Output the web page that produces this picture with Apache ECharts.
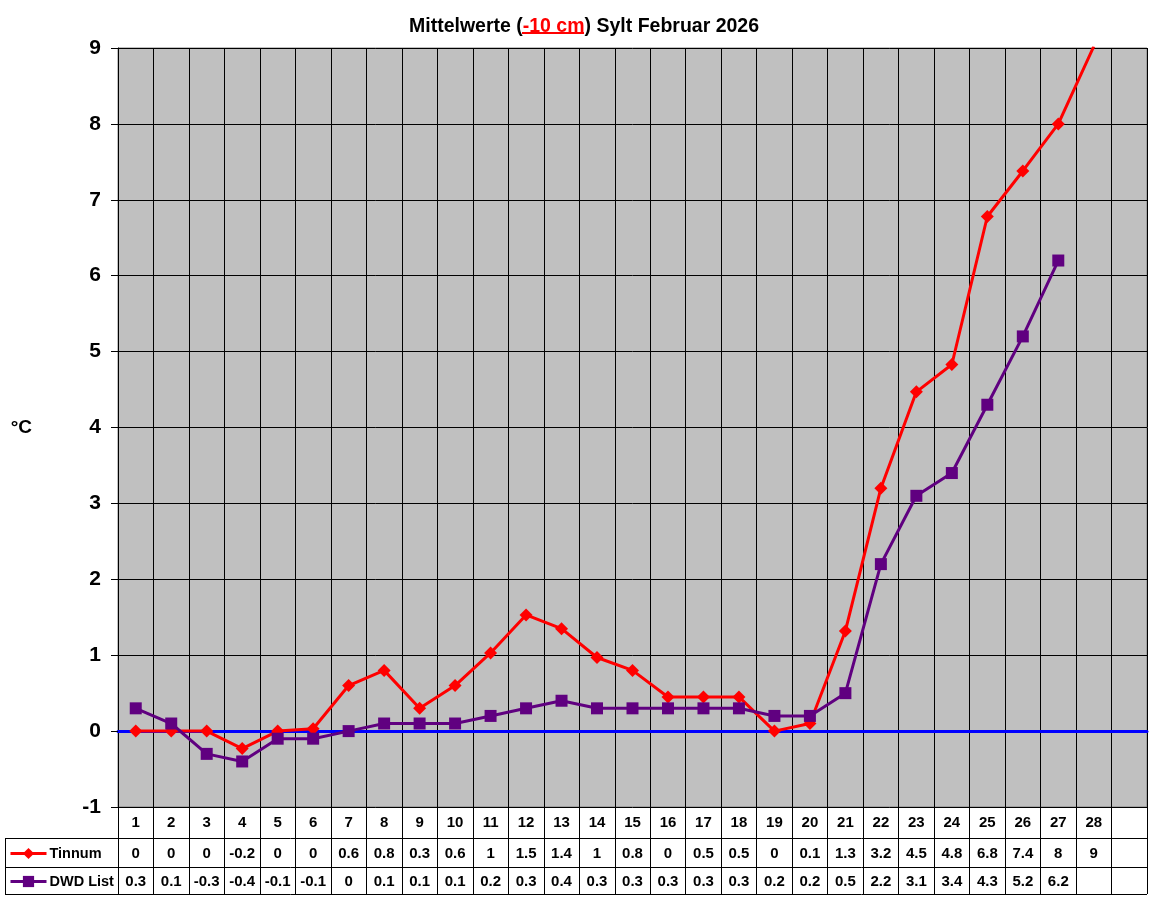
<!DOCTYPE html>
<html>
<head>
<meta charset="utf-8">
<script src="https://cdn.jsdelivr.net/npm/echarts@6/dist/echarts.min.js"></script>
<style>html,body{margin:0;padding:0;background:#fff;}#c{width:1152px;height:900px;}</style>
</head>
<body>
<div id="c"></div>
<script>
var days = ['1','2','3','4','5','6','7','8','9','10','11','12','13','14','15','16','17','18','19','20','21','22','23','24','25','26','27','28',''];
var tinnum = [0, 0, 0, -0.23, 0, 0.03, 0.6, 0.8, 0.3, 0.6, 1.03, 1.53, 1.35, 0.97, 0.8, 0.45, 0.45, 0.45, 0, 0.1, 1.32, 3.2, 4.47, 4.83, 6.78, 7.38, 8, 9.02];
var dwd = [0.3, 0.1, -0.3, -0.4, -0.1, -0.1, 0, 0.1, 0.1, 0.1, 0.2, 0.3, 0.4, 0.3, 0.3, 0.3, 0.3, 0.3, 0.2, 0.2, 0.5, 2.2, 3.1, 3.4, 4.3, 5.2, 6.2];
var tinnumTable = ['0','0','0','-0.2','0','0','0.6','0.8','0.3','0.6','1','1.5','1.4','1','0.8','0','0.5','0.5','0','0.1','1.3','3.2','4.5','4.8','6.8','7.4','8','9'];
var dwdTable = ['0.3','0.1','-0.3','-0.4','-0.1','-0.1','0','0.1','0.1','0.1','0.2','0.3','0.4','0.3','0.3','0.3','0.3','0.3','0.2','0.2','0.5','2.2','3.1','3.4','4.3','5.2','6.2'];
var yTicks = {min: -1, max: 9, interval: 1};

var FONT = "'Liberation Sans', Arial, sans-serif";
function pad(arr) { var a = arr.slice(); while (a.length < days.length) a.push(''); return a; }
var RED = '#FF0000', PURPLE = '#600080';
var tableLabel = {fontFamily: FONT, fontWeight: 'bold', fontSize: 15, color: '#000', interval: 0, inside: true, verticalAlign: 'middle'};
var legendText = {fontFamily: FONT, fontWeight: 'bold', fontSize: 14.5, color: '#000', padding: [0,0,0,-2]};

var chart = echarts.init(document.getElementById('c'), null, {renderer: 'canvas'});
chart.setOption({
  animation: false,
  backgroundColor: '#fff',
  title: {
    left: 404, top: 12,
    text: '{a|Mittelwerte (}{b|-10 cm}{a|) Sylt Februar 2026}',
    textStyle: {
      rich: {
        a: {fontFamily: FONT, fontWeight: 'bold', fontSize: 19.5, color: '#000'},
        b: {fontFamily: FONT, fontWeight: 'bold', fontSize: 19.5, color: RED}
      }
    }
  },
  legend: [
    {data: ['Tinnum'], left: 9, top: 846, padding: 0, itemWidth: 36, itemHeight: 14, itemGap: 4, selectedMode: false,
     lineStyle: {width: 3}, textStyle: legendText},
    {data: ['DWD List'], left: 9, top: 874, padding: 0, itemWidth: 36, itemHeight: 14, itemGap: 4, selectedMode: false,
     lineStyle: {width: 3}, textStyle: legendText}
  ],
  grid: [
    {left: 118, top: 48, right: 5, bottom: 93, show: true, backgroundColor: '#C0C0C0', borderColor: '#808080', borderWidth: 1},
    {left: 118, top: 807, right: 5, height: 87, show: false}
  ],
  xAxis: [
    {gridIndex: 0, type: 'category', data: days, boundaryGap: true,
     axisLine: {show: true, onZero: true, lineStyle: {color: '#0000FF', width: 3}},
     axisTick: {show: false}, axisLabel: {show: false},
     splitLine: {show: true, interval: 0, lineStyle: {color: '#000', width: 1}}},
    {gridIndex: 1, type: 'category', data: days, position: 'top', boundaryGap: true,
     axisLine: {show: false}, axisTick: {show: false},
     axisLabel: Object.assign({margin: 16}, tableLabel),
     splitLine: {show: true, interval: 0, lineStyle: {color: '#000', width: 1}}},
    {gridIndex: 1, type: 'category', data: pad(tinnumTable), position: 'top', boundaryGap: true,
     axisLine: {show: false}, axisTick: {show: false}, splitLine: {show: false},
     axisLabel: Object.assign({margin: 47}, tableLabel)},
    {gridIndex: 1, type: 'category', data: pad(dwdTable), position: 'top', boundaryGap: true,
     axisLine: {show: false}, axisTick: {show: false}, splitLine: {show: false},
     axisLabel: Object.assign({margin: 75}, tableLabel)}
  ],
  yAxis: [
    {gridIndex: 0, type: 'value', min: yTicks.min, max: yTicks.max, interval: yTicks.interval,
     name: '°C', nameLocation: 'middle', nameRotate: 0, nameGap: 86,
     nameTextStyle: {fontFamily: FONT, fontWeight: 'bold', fontSize: 19, color: '#000'},
     axisLine: {show: true, lineStyle: {color: '#000', width: 1}},
     axisTick: {show: true, length: 7, lineStyle: {color: '#000'}},
     axisLabel: {fontFamily: FONT, fontWeight: 'bold', fontSize: 21, color: '#000', margin: 17},
     splitLine: {show: true, lineStyle: {color: '#000', width: 1}}},
    {gridIndex: 1, type: 'value', show: false, min: 0, max: 1}
  ],
  series: [
    {name: 'Tinnum', type: 'line', xAxisIndex: 0, yAxisIndex: 0, data: tinnum,
     symbol: 'diamond', symbolSize: 13, clip: true,
     lineStyle: {color: RED, width: 3}, itemStyle: {color: RED}},
    {name: 'DWD List', type: 'line', xAxisIndex: 0, yAxisIndex: 0, data: dwd,
     symbol: 'rect', symbolSize: 12, clip: true,
     lineStyle: {color: PURPLE, width: 3}, itemStyle: {color: PURPLE}}
  ],
  graphic: [
    {type: 'line', shape: {x1: 522, y1: 33, x2: 584, y2: 33}, style: {stroke: RED, lineWidth: 2}},
    {type: 'line', shape: {x1: 5, y1: 838.5, x2: 1147, y2: 838.5}, style: {stroke: '#000', lineWidth: 1}},
    {type: 'line', shape: {x1: 5, y1: 867.5, x2: 1147, y2: 867.5}, style: {stroke: '#000', lineWidth: 1}},
    {type: 'line', shape: {x1: 5, y1: 894.5, x2: 1147, y2: 894.5}, style: {stroke: '#000', lineWidth: 1}},
    {type: 'line', shape: {x1: 5.5, y1: 838, x2: 5.5, y2: 895}, style: {stroke: '#000', lineWidth: 1}}
  ]
});
</script>
</body>
</html>
